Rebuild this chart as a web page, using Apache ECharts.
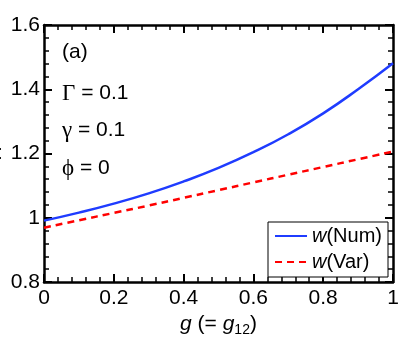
<!DOCTYPE html>
<html>
<head>
<meta charset="utf-8">
<script src="https://cdn.jsdelivr.net/npm/echarts@6/dist/echarts.min.js"></script>
<style>
    html, body { margin: 0; padding: 0; background: #fff; }
    #chart { width: 407px; height: 343px; }
</style>
</head>
<body>
<div id="chart"></div>
<script>
// g = g12 sampling
var gValues = [0, 0.1, 0.2, 0.3, 0.4, 0.5, 0.6, 0.7, 0.8, 0.9, 1];
// w(Num), numerical
var wNum = [0.991, 1.016, 1.044, 1.076, 1.113, 1.155, 1.204, 1.260, 1.325, 1.400, 1.481];
// w(Var), variational (dashed)
var wVar = [0.969, 0.992, 1.015, 1.038, 1.062, 1.086, 1.110, 1.134, 1.158, 1.182, 1.206];
var seriesNames = ['w(Num)', 'w(Var)'];
var notes = ['(a)', 'Γ = 0.1', 'γ = 0.1', 'ϕ = 0'];

var font = 'Liberation Sans';

function pairs(xs, ys) {
    var out = [];
    for (var i = 0; i < xs.length; i++)
        out.push([xs[i], ys[i]]);
    return out;
}

function fmtTick(v) {
    return String(Math.round(v * 10) / 10);
}

function axisBase(pos, showLabel) {
    var vert = pos == 'left' || pos == 'right';
    return {
        type: 'value',
        position: pos,
        min: vert ? 0.8 : 0,
        max: vert ? 1.6 : 1,
        interval: 0.2,
        axisLine: { show: true, onZero: false, lineStyle: { color: '#000', width: 2.5 } },
        axisTick: { show: true, inside: true, length: 8, lineStyle: { color: '#000', width: 2 } },
        minorTick: { show: true, splitNumber: 5, length: 5, lineStyle: { color: '#000', width: 1.5 } },
        splitLine: { show: false },
        axisLabel: {
            show: showLabel,
            formatter: fmtTick,
            fontFamily: font,
            fontSize: 21,
            color: '#000',
            margin: 6
        }
    };
}

var chart = echarts.init(document.getElementById('chart'));

var xBottom = axisBase('bottom', true);
xBottom.name = '{i|g} (= {i|g}{sub|12})';
xBottom.nameLocation = 'middle';
xBottom.nameGap = 29;
xBottom.nameTextStyle = {
    fontFamily: font,
    fontSize: 21,
    color: '#000',
    rich: {
        i: { fontFamily: font, fontSize: 21, fontStyle: 'italic', color: '#000' },
        sub: { fontFamily: font, fontSize: 14, color: '#000', padding: [12, 0, 0, 0] }
    }
};
var xTop = axisBase('top', false);
var yLeft = axisBase('left', true);
yLeft.axisLabel.margin = 4;
var yRight = axisBase('right', false);

var noteTop = [42, 82, 119, 157];
var graphics = [];
for (var k = 0; k < notes.length; k++) {
    var txt = notes[k];
    if (k > 0)
        txt = '{gr|' + notes[k].charAt(0) + '}' + notes[k].slice(1);
    graphics.push({
        type: 'text',
        left: 62,
        top: noteTop[k],
        style: {
            text: txt,
            font: '21px "' + font + '"',
            fill: '#000',
            rich: { gr: { fontFamily: 'Liberation Serif', fontSize: 23, fill: '#000' } }
        }
    });
}
graphics.push({
    type: 'text', left: -3, top: 143,
    style: { text: ':', font: '21px "' + font + '"', fill: '#000' }
});

chart.setOption({
    animation: false,
    backgroundColor: '#fff',
    grid: { left: 44, right: 14, top: 25, bottom: 61 },
    xAxis: [xBottom, xTop],
    yAxis: [yLeft, yRight],
    legend: {
        data: seriesNames,
        orient: 'vertical',
        right: 19,
        top: 222,
        itemWidth: 32,
        itemHeight: 10,
        itemGap: 6,
        padding: [4, 6, 5, 6],
        borderColor: '#000',
        borderWidth: 1,
        backgroundColor: '#fff',
        itemStyle: { opacity: 0 },
        formatter: function(name) {
            return '{i|w}' + name.slice(1);
        },
        textStyle: {
            fontFamily: font,
            fontSize: 20,
            color: '#000',
            rich: {
                i: { fontFamily: font, fontSize: 20, fontStyle: 'italic', color: '#000' }
            }
        }
    },
    graphic: graphics,
    series: [{
        name: seriesNames[0],
        type: 'line',
        data: pairs(gValues, wNum),
        smooth: true,
        symbol: 'none',
        color: '#1f3cff',
        lineStyle: { color: '#1f3cff', width: 2.5 }
    }, {
        name: seriesNames[1],
        type: 'line',
        data: pairs(gValues, wVar),
        smooth: true,
        symbol: 'none',
        color: '#ff0000',
        lineStyle: { color: '#ff0000', width: 2.5, type: [7, 5] }
    }]
});
</script>
</body>
</html>
